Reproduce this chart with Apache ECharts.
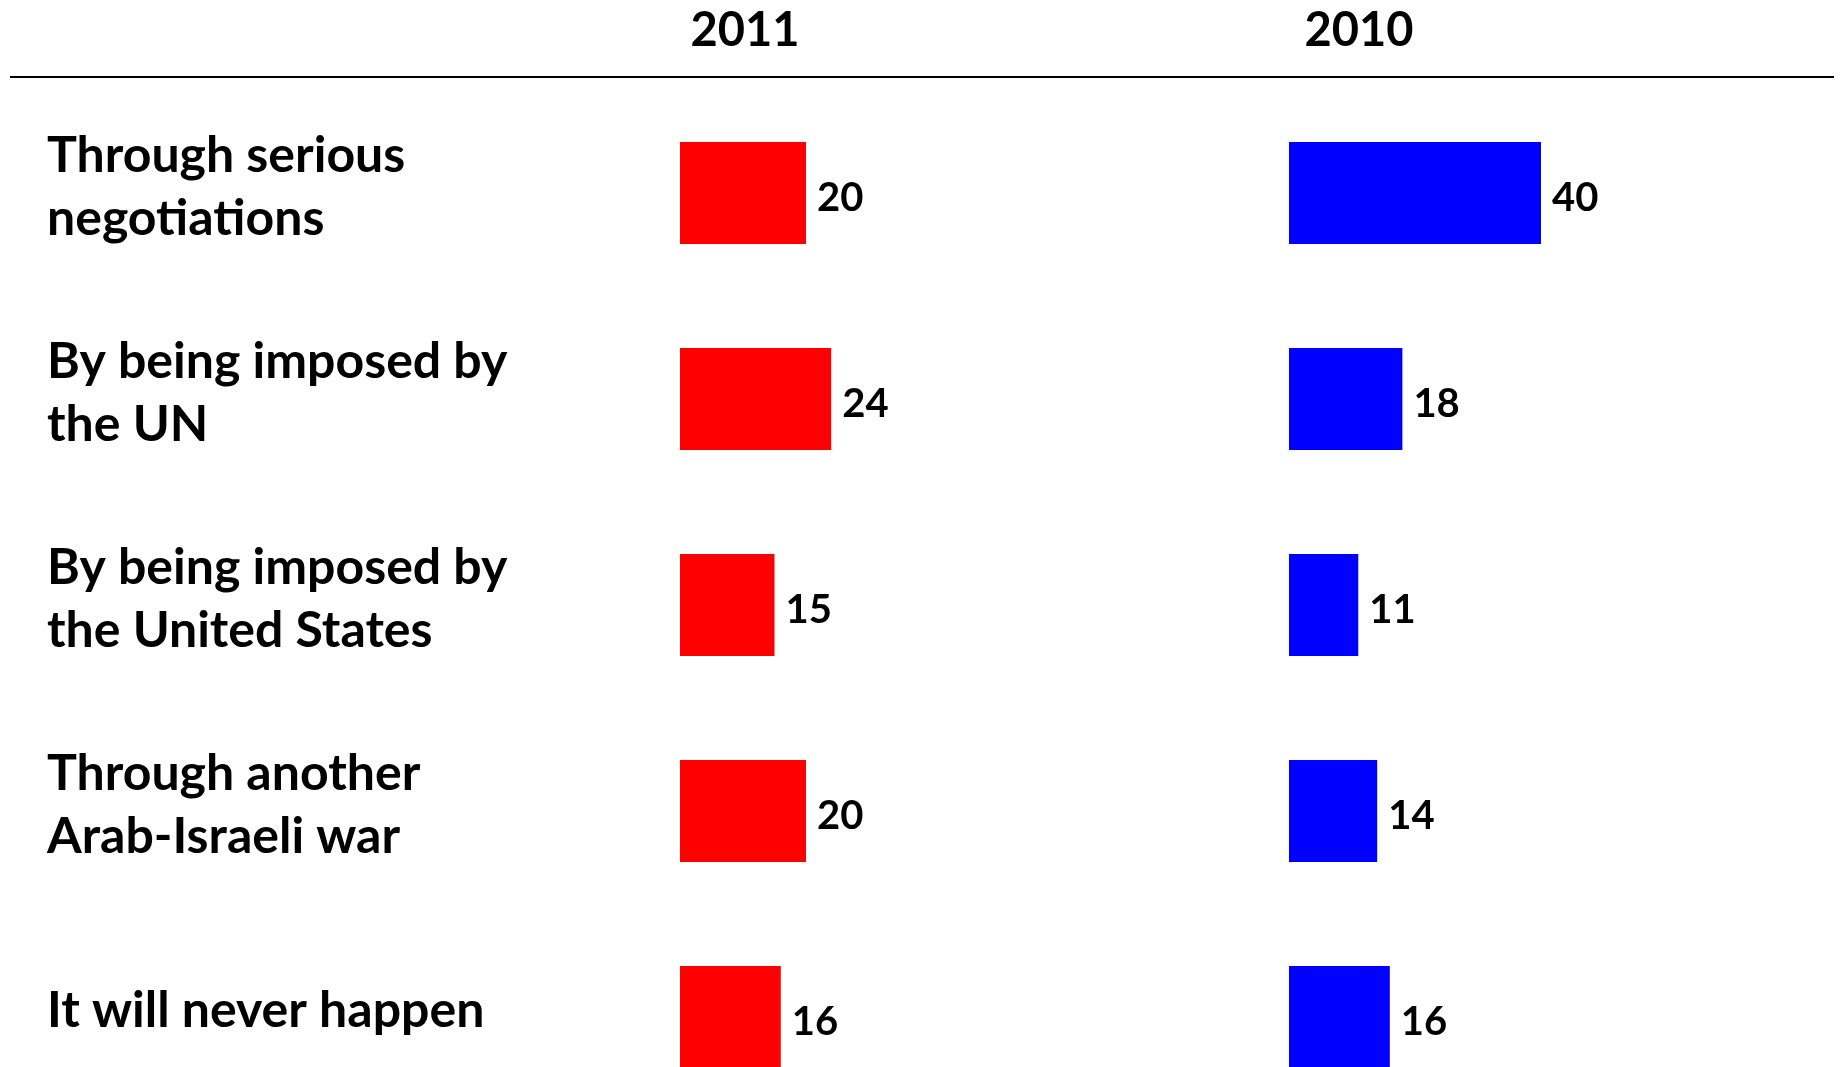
<!DOCTYPE html>
<html>
<head>
<meta charset="utf-8">
<script src="https://cdn.jsdelivr.net/npm/echarts@6/dist/echarts.min.js"></script>
<style>
  html, body { margin: 0; padding: 0; background: #fff; }
  #chart { width: 1841px; height: 1067px; }
</style>
</head>
<body>
<div id="chart"></div>
<script>
  // data
  const categories = [
    'Through serious\nnegotiations',
    'By being imposed by\nthe UN',
    'By being imposed by\nthe United States',
    'Through another\nArab-Israeli war',
    'It will never happen'
  ]
  const years = ['2011', '2010']
  const values2011 = [20, 24, 15, 20, 16]
  const values2010 = [40, 18, 11, 14, 16]

  const FONT = 'Lato, "Open Sans", sans-serif'
  const chart = echarts.init(document.getElementById('chart'))

  const barLabel = {
    show: true,
    position: 'right',
    distance: 11,
    offset: [0, 5],
    color: '#000',
    fontFamily: FONT,
    fontWeight: 'bold',
    fontSize: 40
  }

  const valueAxis = (gridIndex) => ({
    type: 'value',
    gridIndex,
    min: 0,
    max: 40,
    show: false
  })

  const catAxis = (gridIndex, showLabel) => ({
    type: 'category',
    gridIndex,
    data: categories,
    inverse: true,
    axisLine: { show: false },
    axisTick: { show: false },
    axisLabel: {
      show: showLabel,
      margin: 633,
      align: 'left',
      color: '#000',
      fontFamily: FONT,
      fontWeight: 'bold',
      fontSize: 50,
      lineHeight: 63
    }
  })

  // 最后一行被画面底部裁掉，所以网格超出画布
  // grid 2 只放分类文字，比柱子略高一点
  chart.setOption({
    backgroundColor: '#fff',
    animation: false,
    grid: [
      { left: 680, width: 252, top: 90, height: 1030, outerBoundsMode: 'none' },
      { left: 1289, width: 252, top: 90, height: 1030, outerBoundsMode: 'none' },
      { left: 680, width: 252, top: 84, height: 1030, outerBoundsMode: 'none' }
    ],
    xAxis: [valueAxis(0), valueAxis(1), valueAxis(2)],
    yAxis: [catAxis(0, false), catAxis(1, false), catAxis(2, true)],
    graphic: [
      {
        type: 'line',
        shape: { x1: 10, y1: 77, x2: 1834, y2: 77 },
        style: { stroke: '#000', lineWidth: 2 }
      },
      {
        type: 'text',
        x: 745,
        y: 31,
        style: {
          text: years[0],
          align: 'center',
          verticalAlign: 'middle',
          fill: '#000',
          font: 'bold 47px ' + FONT
        }
      },
      {
        type: 'text',
        x: 1359,
        y: 31,
        style: {
          text: years[1],
          align: 'center',
          verticalAlign: 'middle',
          fill: '#000',
          font: 'bold 47px ' + FONT
        }
      }
    ],
    series: [
      {
        name: years[0],
        type: 'bar',
        xAxisIndex: 0,
        yAxisIndex: 0,
        data: values2011,
        barWidth: 102,
        itemStyle: { color: '#ff0000' },
        label: barLabel
      },
      {
        name: years[1],
        type: 'bar',
        xAxisIndex: 1,
        yAxisIndex: 1,
        data: values2010,
        barWidth: 102,
        itemStyle: { color: '#0000ff' },
        label: barLabel
      }
    ]
  })
</script>
</body>
</html>
